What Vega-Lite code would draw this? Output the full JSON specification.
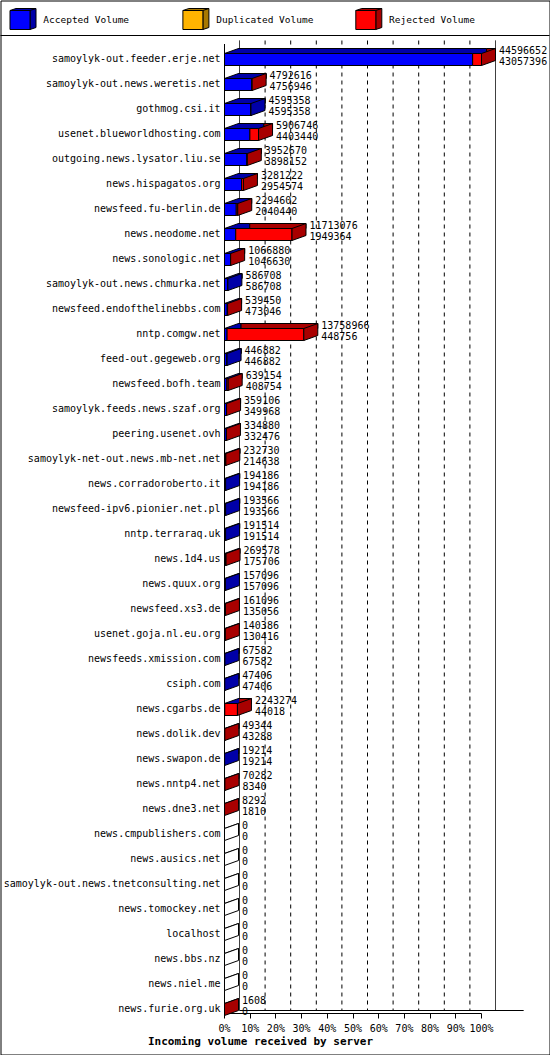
{
  "$schema": "https://vega.github.io/schema/vega-lite/v6.json",
  "width": 549,
  "height": 1054,
  "padding": {"left": 0.5, "top": 0.5, "right": 0.5, "bottom": 0.5},
  "autosize": {"type": "none"},
  "background": "white",
  "config": {
    "view": {"stroke": "black", "strokeWidth": 1},
    "axis": {"translate": 0},
    "font": "DejaVu Sans Mono"
  },
  "datasets": {
    "servers": [
      {"server": "samoylyk-out.feeder.erje.net", "total": 44596652, "accepted": 43057396},
      {"server": "samoylyk-out.news.weretis.net", "total": 4792616, "accepted": 4756946},
      {"server": "gothmog.csi.it", "total": 4595358, "accepted": 4595358},
      {"server": "usenet.blueworldhosting.com", "total": 5906746, "accepted": 4403440},
      {"server": "outgoing.news.lysator.liu.se", "total": 3952670, "accepted": 3898152},
      {"server": "news.hispagatos.org", "total": 3281222, "accepted": 2954574},
      {"server": "newsfeed.fu-berlin.de", "total": 2294602, "accepted": 2040440},
      {"server": "news.neodome.net", "total": 11713076, "accepted": 1949364},
      {"server": "news.sonologic.net", "total": 1066880, "accepted": 1046630},
      {"server": "samoylyk-out.news.chmurka.net", "total": 586708, "accepted": 586708},
      {"server": "newsfeed.endofthelinebbs.com", "total": 539450, "accepted": 473046},
      {"server": "nntp.comgw.net", "total": 13758966, "accepted": 448756},
      {"server": "feed-out.gegeweb.org", "total": 446882, "accepted": 446882},
      {"server": "newsfeed.bofh.team", "total": 639154, "accepted": 408754},
      {"server": "samoylyk.feeds.news.szaf.org", "total": 359106, "accepted": 349968},
      {"server": "peering.usenet.ovh", "total": 334880, "accepted": 332476},
      {"server": "samoylyk-net-out.news.mb-net.net", "total": 232730, "accepted": 214638},
      {"server": "news.corradoroberto.it", "total": 194186, "accepted": 194186},
      {"server": "newsfeed-ipv6.pionier.net.pl", "total": 193566, "accepted": 193566},
      {"server": "nntp.terraraq.uk", "total": 191514, "accepted": 191514},
      {"server": "news.1d4.us", "total": 269578, "accepted": 175706},
      {"server": "news.quux.org", "total": 157096, "accepted": 157096},
      {"server": "newsfeed.xs3.de", "total": 161096, "accepted": 135056},
      {"server": "usenet.goja.nl.eu.org", "total": 140386, "accepted": 130416},
      {"server": "newsfeeds.xmission.com", "total": 67582, "accepted": 67582},
      {"server": "csiph.com", "total": 47406, "accepted": 47406},
      {"server": "news.cgarbs.de", "total": 2243274, "accepted": 44018},
      {"server": "news.dolik.dev", "total": 49344, "accepted": 43288},
      {"server": "news.swapon.de", "total": 19214, "accepted": 19214},
      {"server": "news.nntp4.net", "total": 70282, "accepted": 8340},
      {"server": "news.dne3.net", "total": 8292, "accepted": 1810},
      {"server": "news.cmpublishers.com", "total": 0, "accepted": 0},
      {"server": "news.ausics.net", "total": 0, "accepted": 0},
      {"server": "samoylyk-out.news.tnetconsulting.net", "total": 0, "accepted": 0},
      {"server": "news.tomockey.net", "total": 0, "accepted": 0},
      {"server": "localhost", "total": 0, "accepted": 0},
      {"server": "news.bbs.nz", "total": 0, "accepted": 0},
      {"server": "news.niel.me", "total": 0, "accepted": 0},
      {"server": "news.furie.org.uk", "total": 1608, "accepted": 0}
    ],
    "grid": [
      {"p": 0}, {"p": 0.1}, {"p": 0.2}, {"p": 0.3}, {"p": 0.4}, {"p": 0.5},
      {"p": 0.6}, {"p": 0.7}, {"p": 0.8}, {"p": 0.9}, {"p": 1}
    ]
  },
  "resolve": {"scale": {"x": "independent"}, "axis": {"x": "independent"}},
  "layer": [
    {
      "data": {"name": "grid"},
      "layer": [
        {
          "mark": {"type": "rule", "color": "black", "strokeWidth": 1, "yOffset": -19, "y2Offset": 1},
          "encoding": {
            "x": {
              "field": "p", "type": "quantitative",
              "scale": {"domain": [-0.93359375, 1.2109375], "range": [0, 549], "zero": false, "nice": false},
              "axis": {"orient": "top", "offset": -35, "domain": true, "domainColor": "black", "domainWidth": 1, "ticks": false, "labels": false, "grid": false, "title": null}
            },
            "y": {"datum": "samoylyk-out.feeder.erje.net", "type": "nominal"},
            "y2": {"datum": "news.furie.org.uk"},
            "strokeDash": {"condition": {"test": "datum.p == 0 || datum.p == 1", "value": [1, 0]}, "value": [4, 4]}
          }
        },
        {
          "transform": [{"filter": "datum.p == 0"}],
          "mark": {"type": "rule", "color": "black", "strokeWidth": 1, "yOffset": 1},
          "encoding": {
            "x": {"datum": 0, "type": "quantitative"},
            "x2": {"datum": 1.11},
            "y": {"datum": "news.furie.org.uk", "type": "nominal"}
          }
        }
      ]
    },
    {
      "data": {"name": "servers"},
      "layer": [
        {
          "mark": {"type": "bar", "height": 5, "yOffset": -8.5, "xOffset": 14, "x2Offset": 14, "stroke": "black", "strokeWidth": 1},
          "encoding": {
            "y": {
              "field": "server", "type": "nominal",
              "scale": {
                "domain": ["samoylyk-out.feeder.erje.net", "samoylyk-out.news.weretis.net", "gothmog.csi.it", "usenet.blueworldhosting.com", "outgoing.news.lysator.liu.se", "news.hispagatos.org", "newsfeed.fu-berlin.de", "news.neodome.net", "news.sonologic.net", "samoylyk-out.news.chmurka.net", "newsfeed.endofthelinebbs.com", "nntp.comgw.net", "feed-out.gegeweb.org", "newsfeed.bofh.team", "samoylyk.feeds.news.szaf.org", "peering.usenet.ovh", "samoylyk-net-out.news.mb-net.net", "news.corradoroberto.it", "newsfeed-ipv6.pionier.net.pl", "nntp.terraraq.uk", "news.1d4.us", "news.quux.org", "newsfeed.xs3.de", "usenet.goja.nl.eu.org", "newsfeeds.xmission.com", "csiph.com", "news.cgarbs.de", "news.dolik.dev", "news.swapon.de", "news.nntp4.net", "news.dne3.net", "news.cmpublishers.com", "news.ausics.net", "samoylyk-out.news.tnetconsulting.net", "news.tomockey.net", "localhost", "news.bbs.nz", "news.niel.me", "news.furie.org.uk"],
                "range": [46.5, 1021.5],
                "paddingInner": 0,
                "paddingOuter": 0
              },
              "axis": {"orient": "left", "offset": -224, "domain": false, "ticks": false, "grid": false, "labelPadding": 4, "labelFont": "DejaVu Sans Mono", "labelFontSize": 10, "labelColor": "black", "labelLimit": 400, "title": null}
            },
            "x": {
              "field": "accepted", "type": "quantitative",
              "scale": {"domain": [0, 44596652], "range": [224, 481], "zero": true, "nice": false},
              "axis": {
                "orient": "bottom", "offset": -41,
                "values": [0, 4459665.2, 8919330.4, 13378995.6, 17838660.8, 22298326, 26757991.2, 31217656.4, 35677321.6, 40136986.8, 44596652],
                "labelExpr": "round(datum.value / 445966.52) + '%'",
                "grid": false, "domainColor": "black", "tickColor": "black", "tickSize": 5, "labelPadding": 5,
                "labelFont": "DejaVu Sans Mono", "labelFontSize": 10, "labelColor": "black", "labelFlush": false, "labelOverlap": false,
                "title": "Incoming volume received by server", "titleFont": "DejaVu Sans Mono", "titleFontSize": 11, "titleFontWeight": "bold", "titleColor": "black",
                "titleX": 260, "titleY": 28.5, "titleBaseline": "middle", "titleAlign": "center", "titleAnchor": null
              }
            },
            "x2": {"datum": 0},
            "fill": {
              "datum": "Accepted Volume", "type": "nominal",
              "scale": {"domain": ["Accepted Volume", "Duplicated Volume", "Rejected Volume"], "range": ["#0000a8", "#a87800", "#a80000"]},
              "legend": {
                "orient": "top-left", "offset": 9, "direction": "horizontal", "columns": 3, "gridAlign": "all", "padding": 0,
                "title": null, "symbolType": "M-1,-0.95L-0.4,-1.15L1.6,-1.15L1.6,0.75L1,0.95L1,-0.95ZM1,-0.95L1.6,-1.15",
                "symbolSize": 400, "symbolStrokeColor": "black", "symbolStrokeWidth": 1, "symbolOpacity": 1,
                "labelFont": "DejaVu Sans Mono", "labelFontSize": 9.5, "labelColor": "black", "labelOpacity": 0, "labelOffset": 12.8, "columnPadding": 38.9, "labelLimit": 300
              }
            }
          }
        },
        {
          "mark": {"type": "bar", "height": 5, "yOffset": -8.5, "xOffset": 14, "x2Offset": 14, "stroke": "black", "strokeWidth": 1},
          "encoding": {
            "y": {"field": "server", "type": "nominal"},
            "x": {"field": "total", "type": "quantitative"},
            "x2": {"field": "accepted"},
            "fill": {"datum": "Rejected Volume", "type": "nominal"}
          }
        },
        {
          "mark": {"type": "point", "shape": "M14.5,-6L0,-6L14,-11L14.5,-11", "size": 4, "filled": true, "stroke": "black", "strokeWidth": 1, "opacity": 1},
          "encoding": {
            "x": {"datum": 0, "type": "quantitative"},
            "y": {"field": "server", "type": "nominal"},
            "fill": {"condition": [{"test": "datum.accepted > 0", "value": "#0000a8"}, {"test": "datum.total > 0", "value": "#a80000"}], "value": "white"}
          }
        },
        {
          "mark": {"type": "bar", "height": 12, "stroke": "black", "strokeWidth": 1},
          "encoding": {
            "y": {"field": "server", "type": "nominal"},
            "x": {"field": "accepted", "type": "quantitative"},
            "x2": {"datum": 0},
            "color": {
              "datum": "Accepted Volume", "type": "nominal",
              "scale": {"domain": ["Accepted Volume", "Duplicated Volume", "Rejected Volume"], "range": ["#0000ff", "#ffb400", "#ff0000"]},
              "legend": {
                "orient": "none", "legendX": 9, "legendY": 9, "direction": "horizontal", "columns": 3, "gridAlign": "all", "padding": 0,
                "title": null, "symbolType": "M-1,-0.95L1,-0.95L1,0.95L-1,0.95Z",
                "symbolSize": 400, "symbolStrokeColor": "black", "symbolStrokeWidth": 1, "symbolOpacity": 1,
                "labelFont": "DejaVu Sans Mono", "labelFontSize": 9.5, "labelColor": "black", "labelOffset": 12.8, "columnPadding": 38.9, "labelLimit": 300
              }
            }
          }
        },
        {
          "mark": {"type": "bar", "height": 12, "stroke": "black", "strokeWidth": 1},
          "encoding": {
            "y": {"field": "server", "type": "nominal"},
            "x": {"field": "total", "type": "quantitative"},
            "x2": {"field": "accepted"},
            "color": {"datum": "Rejected Volume", "type": "nominal"}
          }
        },
        {
          "mark": {"type": "rule", "color": "black", "strokeWidth": 1, "yOffset": -15, "y2Offset": 4},
          "encoding": {
            "x": {"datum": 0, "type": "quantitative"},
            "y": {"datum": "samoylyk-out.feeder.erje.net", "type": "nominal"},
            "y2": {"datum": "news.furie.org.uk"}
          }
        },
        {
          "mark": {"type": "point", "shape": "M0,-6L14,-11L14,1L0,6Z", "size": 4, "filled": true, "stroke": "black", "strokeWidth": 1, "opacity": 1},
          "encoding": {
            "x": {"field": "total", "type": "quantitative"},
            "y": {"field": "server", "type": "nominal"},
            "fill": {"condition": [{"test": "datum.total > datum.accepted", "value": "#a80000"}, {"test": "datum.total > 0", "value": "#0000a8"}], "value": "white"}
          }
        },
        {
          "mark": {"type": "text", "align": "left", "baseline": "middle", "dx": 17.5, "dy": -9, "font": "DejaVu Sans Mono", "fontSize": 10, "color": "black"},
          "encoding": {
            "x": {"field": "total", "type": "quantitative"},
            "y": {"field": "server", "type": "nominal"},
            "text": {"field": "total", "type": "quantitative", "format": "d"}
          }
        },
        {
          "mark": {"type": "text", "align": "left", "baseline": "middle", "dx": 17.5, "dy": 2, "font": "DejaVu Sans Mono", "fontSize": 10, "color": "black"},
          "encoding": {
            "x": {"field": "total", "type": "quantitative"},
            "y": {"field": "server", "type": "nominal"},
            "text": {"field": "accepted", "type": "quantitative", "format": "d"}
          }
        }
      ]
    }
  ]
}
